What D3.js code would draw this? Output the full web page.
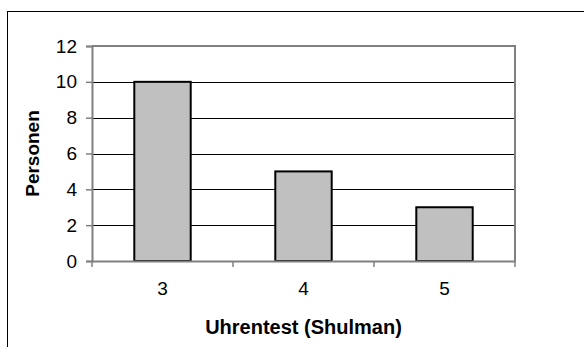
<!DOCTYPE html>
<html>
<head>
<meta charset="utf-8">
<script src="https://cdn.jsdelivr.net/npm/d3@7"></script>
<style>
  body { margin: 0; background: #fff; }
  svg { display: block; font-family: "Liberation Sans", Arial, sans-serif; }
</style>
</head>
<body>
<svg id="chart" width="584" height="347"></svg>
<script>
// Daten
const kategorien = ["3", "4", "5"];
const personen = [10, 5, 3];
const yTicks = [0, 2, 4, 6, 8, 10, 12];

const svg = d3.select("#chart");
const margin = { top: 46, right: 69, bottom: 86, left: 92 };
const width = 584, height = 347;

// Rahmen
svg.append("rect")
    .attr("x", 7.5).attr("y", 11.5)
    .attr("width", 600).attr("height", 400)
    .attr("fill", "none").attr("stroke", "#000").attr("stroke-width", 1);

const x = d3.scaleBand().domain(kategorien)
    .range([margin.left, width - margin.right])
    .paddingInner(0.6).paddingOuter(0.3);
const y = d3.scaleLinear().domain([0, 12]).range([height - margin.bottom, margin.top]);

// Gitterlinien
svg.append("g")
    .selectAll("line")
    .data(yTicks.filter(d => d > 0 && d < 12))
    .join("line")
    .attr("x1", margin.left).attr("x2", width - margin.right)
    .attr("y1", d => Math.round(y(d)) + 0.5).attr("y2", d => Math.round(y(d)) + 0.5)
    .attr("stroke", "#000").attr("stroke-width", 1);

// Plotrahmen oben/rechts
svg.append("path")
    .attr("d", `M${margin.left},${y(12)}H${width - margin.right}V${y(0)}`)
    .attr("fill", "none").attr("stroke", "#808080").attr("stroke-width", 2);

// Balken
svg.selectAll("rect.bar")
    .data(personen)
    .join("rect")
    .attr("class", "bar")
    .attr("x", (d, i) => x(kategorien[i]))
    .attr("y", d => y(d))
    .attr("width", x.bandwidth())
    .attr("height", d => y(0) - y(d))
    .attr("fill", "#c0c0c0")
    .attr("stroke", "#000")
    .attr("stroke-width", 2);

// Y-Achse
const yAxis = svg.append("g")
    .attr("transform", `translate(${margin.left},0)`)
    .call(d3.axisLeft(y).tickValues(yTicks).tickSize(6).tickPadding(9));
yAxis.select(".domain").attr("stroke", "#808080").attr("stroke-width", 2);
yAxis.selectAll(".tick line").attr("stroke", "#808080").attr("stroke-width", 1.5);
yAxis.selectAll("text").attr("font-size", 19).attr("fill", "#000")
    .attr("font-family", "Liberation Sans, Arial, sans-serif");

// X-Achse
const xEdges = [margin.left, ...kategorien.map((k, i) => margin.left + x.step() * (i + 1) * 1)];
const xAxis = svg.append("g")
    .attr("transform", `translate(0,${y(0)})`)
    .call(d3.axisBottom(x).tickSize(0).tickPadding(21));
xAxis.select(".domain").attr("stroke", "#808080").attr("stroke-width", 2);
xAxis.selectAll("text").attr("font-size", 19).attr("fill", "#000")
    .attr("font-family", "Liberation Sans, Arial, sans-serif");
xAxis.selectAll("line.edge")
    .data(d3.range(kategorien.length + 1))
    .join("line")
    .attr("class", "edge")
    .attr("x1", i => x(kategorien[0]) - x.step() * x.paddingInner() / 2 + i * x.step())
    .attr("x2", i => x(kategorien[0]) - x.step() * x.paddingInner() / 2 + i * x.step())
    .attr("y1", 0).attr("y2", 6)
    .attr("stroke", "#808080").attr("stroke-width", 1.5);

// Achsentitel
svg.append("text")
    .attr("x", (margin.left + width - margin.right) / 2)
    .attr("y", 334)
    .attr("text-anchor", "middle")
    .attr("font-size", 20).attr("font-weight", "bold")
    .text("Uhrentest (Shulman)");

svg.append("text")
    .attr("transform", `translate(39,${(y(0) + y(12)) / 2}) rotate(-90)`)
    .attr("text-anchor", "middle")
    .attr("font-size", 19).attr("font-weight", "bold")
    .text("Personen");
</script>
</body>
</html>
